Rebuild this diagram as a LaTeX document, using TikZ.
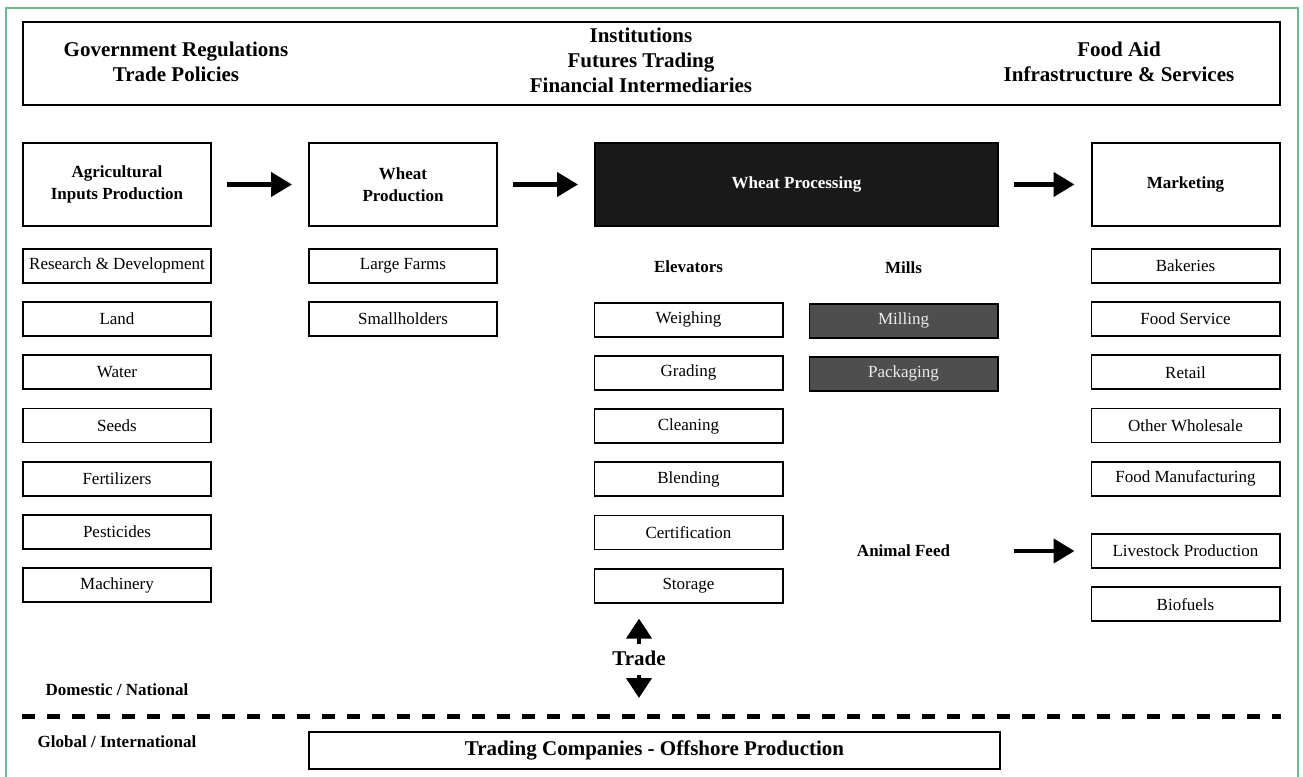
\documentclass[tikz,border=0pt]{standalone}
\usepackage{fontspec}
\setmainfont{Liberation Serif}
\usepackage{xcolor}
\usepackage{tikz}
\usetikzlibrary{positioning,arrows.meta}
\definecolor{framegreen}{RGB}{108,186,140}
\definecolor{milldark}{RGB}{78,78,78}

\begin{document}
\begin{tikzpicture}[x=0.5pt, y=-0.5pt, node distance=8.7pt,
        sector/.style={draw, line width=1pt, minimum width=94pt, minimum height=41.5pt, align=center, font=\fontsize{8.5}{11}\selectfont\bfseries},
        entry/.style={draw, line width=0.9pt, minimum width=94.1pt, minimum height=17pt, inner sep=0pt, font=\fontsize{8.5}{10}\selectfont},
        millentry/.style={entry, fill=milldark, text=black!8},
        colhead/.style={minimum width=95pt, minimum height=17pt, inner sep=0pt, font=\fontsize{8.5}{10}\selectfont\bfseries},
        toptext/.style={align=center, font=\fontsize{10.5}{12.5}\selectfont\bfseries},
        flow/.style={-{Triangle[length=10.5pt, width=12pt]}, line width=2.2pt, shorten <=7.5pt, shorten >=8pt},
        tradearrow/.style={-{Triangle[length=10pt, width=12.5pt]}, line width=2.2pt}]
        \useasboundingbox (0,0) rectangle (1303,777);
        \draw[framegreen, line width=1pt] (6,777) -- (6,8) -- (1298,8) -- (1298,777);
        \node[draw, line width=1pt, minimum width=628.5pt, minimum height=41.5pt] (context) at (651.5,63.5) {};
        \node[toptext] (govt) at (176,61.5) {Government Regulations\\Trade Policies};
        \node[toptext] (inst) at (641,60.5) {Institutions\\Futures Trading\\Financial Intermediaries};
        \node[toptext] (aid) at (1119,61.5) {Food Aid\\Infrastructure \& Services};
        \node[sector] (agri) at (117,184.5) {Agricultural\\Inputs Production};
        \node[sector] (wheat) at (403,184.5) {Wheat\\Production};
        \node[sector, minimum width=201.5pt, fill=black!90, text=white] (proc) at (796.5,184.5) {Wheat Processing};
        \node[sector] (market) at (1185.5,184.5) {Marketing};
        \path (agri) edge [flow] (wheat);
        \path (wheat) edge [flow] (proc);
        \path (proc) edge [flow] (market);
        \node[entry, below=10.5pt of agri] (research) {Research \& Development};
        \node[entry, below=of research] (land) {Land};
        \node[entry, below=of land] (water) {Water};
        \node[entry, below=of water] (seeds) {Seeds};
        \node[entry, below=of seeds] (fert) {Fertilizers};
        \node[entry, below=of fert] (pest) {Pesticides};
        \node[entry, below=of pest] (mach) {Machinery};
        \node[entry, below=10.5pt of wheat] (farms) {Large Farms};
        \node[entry, below=of farms] (small) {Smallholders};
        \node[colhead] (elev) at (688.5,267) {Elevators};
        \node[entry, below=of elev] (weigh) {Weighing};
        \node[entry, below=of weigh] (grade) {Grading};
        \node[entry, below=of grade] (clean) {Cleaning};
        \node[entry, below=of clean] (blend) {Blending};
        \node[entry, below=of blend] (cert) {Certification};
        \node[entry, below=of cert] (storage) {Storage};
        \node[colhead] (mills) at (903.5,268) {Mills};
        \node[millentry, below=of mills] (milling) {Milling};
        \node[millentry, below=of milling] (pack) {Packaging};
        \node[colhead] (feed) at (903.5,551) {Animal Feed};
        \node[entry, below=10.5pt of market] (bake) {Bakeries};
        \node[entry, below=of bake] (service) {Food Service};
        \node[entry, below=of service] (retail) {Retail};
        \node[entry, below=of retail] (whole) {Other Wholesale};
        \node[entry, below=of whole] (manuf) {Food Manufacturing};
        \node[entry] (live) at (1185.5,551) {Livestock Production};
        \node[entry, below=of live] (bio) {Biofuels};
        \path (feed) edge [flow] (live);
        \coordinate (dashl) at (22,716);
        \coordinate (dashr) at (1281,716);
        \draw[line width=2.5pt, dash pattern=on 6.25pt off 6.25pt] (dashl) -- (dashr);
        \node[font=\fontsize{10.5}{12}\selectfont\bfseries] (trade) at (639,658) {Trade};
        \draw[tradearrow, shorten >=7.5pt] (trade.north) -- (trade |- storage.south);
        \draw[tradearrow, shorten <=1.5pt, shorten >=9pt] (trade.south) -- (trade |- dashl);
        \node[font=\fontsize{8.5}{10}\selectfont\bfseries] (domestic) at (117,690) {Domestic / National};
        \node[font=\fontsize{8.5}{10}\selectfont\bfseries] (global) at (117,742) {Global / International};
        \node[draw, line width=1pt, minimum width=345.5pt, minimum height=18.5pt, font=\fontsize{10.5}{12}\selectfont\bfseries] (offshore) at (654.5,750.5) {Trading Companies - Offshore Production};
    \end{tikzpicture}
\end{document}
